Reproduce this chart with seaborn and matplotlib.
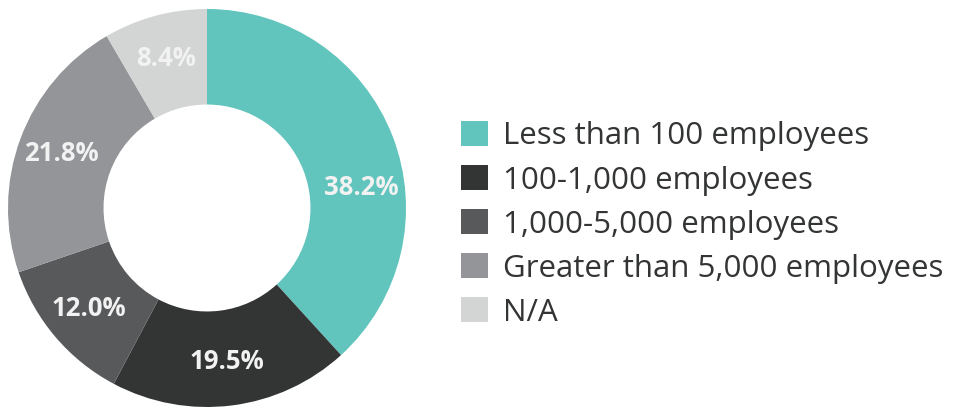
import numpy as np
import matplotlib
matplotlib.use("Agg")
import matplotlib.pyplot as plt
import seaborn as sns
from matplotlib.patches import Patch

categories = ['Less than 100 employees', '100-1,000 employees', '1,000-5,000 employees',
              'Greater than 5,000 employees', 'N/A']
shares = [38.2, 19.5, 12.0, 21.8, 8.4]
colors = ['#61c4bd', '#333534', '#58595b', '#939598', '#d3d4d4']

sns.set_theme(style="white")
plt.rcParams['font.family'] = ['Open Sans', 'DejaVu Sans']

fig = plt.figure(figsize=(9.63, 4.08), dpi=100)
ax = fig.add_axes([8 / 963, 1 / 408, 398 / 963, 398 / 408])

wedges, _ = ax.pie(shares, colors=colors, startangle=90, counterclock=False,
                   wedgeprops=dict(width=0.48, edgecolor='none'))
ax.set_xlim(-1, 1)
ax.set_ylim(-1, 1)
ax.set_aspect('equal')

# white percentage labels in the middle of each ring segment
total = sum(shares)
start = 90.0
for i, (w, val) in enumerate(zip(wedges, shares)):
    span = val / total * 360
    frac = 0.6 if i == 0 else 0.5
    mid = start - span * frac
    r = 0.78
    ax.text(r * np.cos(np.radians(mid)), r * np.sin(np.radians(mid)), f'{val:.1f}%',
            ha='center', va='center', color='#f2f2f2', fontsize=18.5, fontweight='bold')
    start -= span

handles = [Patch(facecolor=c, edgecolor='none') for c in colors]
fig.legend(handles, categories, loc='center left', bbox_to_anchor=(433 / 963, 0.45),
           frameon=False, fontsize=22.5, handlelength=0.85, handleheight=0.85,
           handletextpad=0.5, labelspacing=0.44, labelcolor='#333534')

fig.savefig('out.png', dpi=100)
